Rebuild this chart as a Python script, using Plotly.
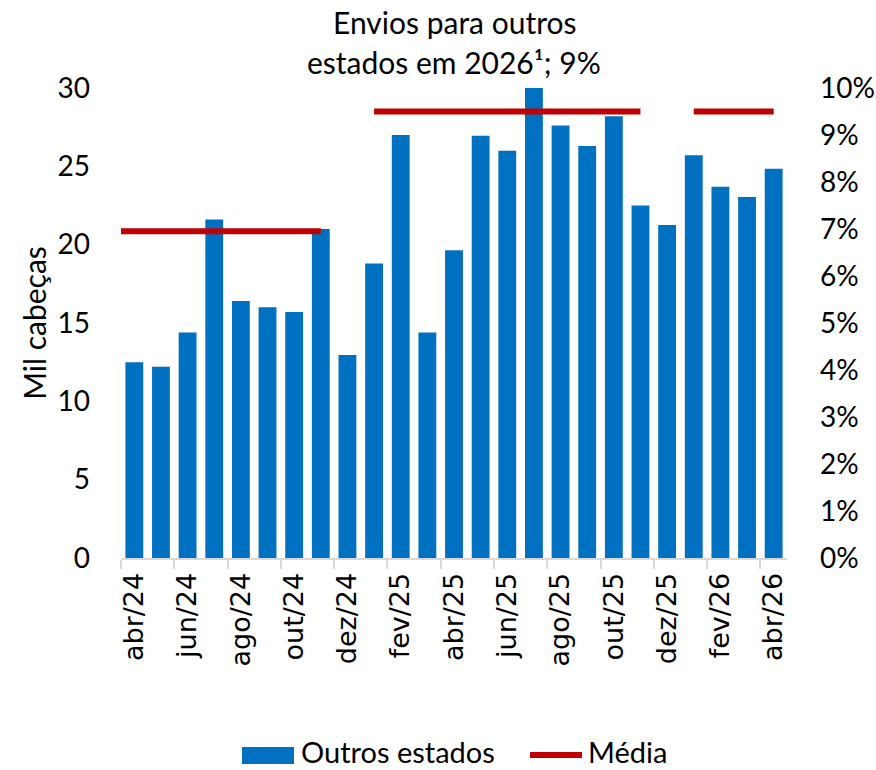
import plotly.graph_objects as go

months = ["abr/24", "mai/24", "jun/24", "jul/24", "ago/24", "set/24", "out/24", "nov/24",
          "dez/24", "jan/25", "fev/25", "mar/25", "abr/25", "mai/25", "jun/25", "jul/25",
          "ago/25", "set/25", "out/25", "nov/25", "dez/25", "jan/26", "fev/26", "mar/26", "abr/26"]
outros_estados = [12.5, 12.2, 14.4, 21.6, 16.4, 16.0, 15.7, 21.0,
                  12.95, 18.8, 27.0, 14.4, 19.65, 26.95, 26.0, 30.0,
                  27.6, 26.3, 28.2, 22.5, 21.25, 25.7, 23.7, 23.05, 24.85]
# Média (% on right axis); a preceding month (mar/24) is part of the first period
media_prev_month = "mar/24"
media_prev_value = 6.95
media = [6.95, 6.95, 6.95, 6.95, 6.95, 6.95, 6.95, 6.95,
         None, 9.5, 9.5, 9.5, 9.5, 9.5, 9.5, 9.5,
         9.5, 9.5, 9.5, 9.5, None, 9.5, 9.5, 9.5, 9.5]
left_ticks = [0, 5, 10, 15, 20, 25, 30]
right_ticks = [0, 1, 2, 3, 4, 5, 6, 7, 8, 9, 10]
right_tick_text = [f"{v}%" for v in right_ticks]
title_lines = ["Envios para outros", "estados em 2026¹; 9%"]
series_names = ["Outros estados", "Média"]

idx = list(range(len(months)))
label_idx = idx[::2]
label_text = months[::2]

BLUE = "#0070C0"
RED = "#C00000"
FONT = "Lato"

W, H = 876, 770
ML, MR, MT, MB = 121, 89, 88, 212
PW, PH = W - ML - MR, H - MT - MB


def px_x(x):
    return (x - ML) / PW


def px_y(y):
    return (H - MB - y) / PH


fig = go.Figure()
fig.add_trace(go.Bar(x=idx, y=outros_estados, name=series_names[0],
                     marker=dict(color=BLUE, line=dict(width=0)), yaxis="y"))
fig.add_trace(go.Scatter(x=[-1] + idx, y=[media_prev_value] + media, name=series_names[1],
                         mode="lines", line=dict(color=RED, width=6),
                         connectgaps=False, yaxis="y2"))

# title, one annotation per line
for line, yc in zip(title_lines, [22, 62]):
    fig.add_annotation(text=line, xref="paper", yref="paper",
                       x=0.5, xanchor="center", y=px_y(yc), yanchor="middle",
                       showarrow=False, align="center",
                       font=dict(family=FONT, size=30, color="black"))

# legend (drawn manually to match the wide swatches)
leg_y = px_y(751)
fig.add_shape(type="rect", xref="paper", yref="paper",
              x0=px_x(242), x1=px_x(294), y0=px_y(747), y1=px_y(764),
              fillcolor=BLUE, line=dict(width=0))
fig.add_annotation(text=series_names[0], xref="paper", yref="paper",
                   x=px_x(299), xanchor="left", y=leg_y, yanchor="middle",
                   showarrow=False,
                   font=dict(family=FONT, size=29, color="black"))
fig.add_shape(type="line", xref="paper", yref="paper",
              x0=px_x(530), x1=px_x(582), y0=px_y(755), y1=px_y(755),
              line=dict(color=RED, width=6))
fig.add_annotation(text=series_names[1], xref="paper", yref="paper",
                   x=px_x(586), xanchor="left", y=leg_y, yanchor="middle",
                   showarrow=False,
                   font=dict(family=FONT, size=29, color="black"))

fig.update_layout(
    width=W, height=H,
    margin=dict(l=ML, r=MR, t=MT, b=MB),
    plot_bgcolor="white", paper_bgcolor="white",
    bargap=0.33, showlegend=False,
    font=dict(family=FONT, size=26, color="black"),
    xaxis=dict(range=[-0.5, len(months) - 0.5], tickmode="array",
               tickvals=label_idx, ticktext=label_text, tickangle=-90,
               ticks="", showline=True, linecolor="#D9D9D9", linewidth=2,
               showgrid=False, zeroline=False, automargin=False,
               ticklabelstandoff=2,
               tickfont=dict(family="DejaVu Sans", size=27, color="black"),
               minor=dict(ticks="outside", tick0=-0.5, dtick=2, ticklen=9,
                          tickcolor="#D9D9D9", tickwidth=2, showgrid=False)),
    yaxis=dict(range=[0, 30], tickmode="array", tickvals=left_ticks,
               showgrid=False, zeroline=False, showline=False, automargin=False,
               ticks="", ticklabelstandoff=30,
               tickfont=dict(family=FONT, size=28, color="black"),
               title=dict(text="Mil cabeças", standoff=2,
                          font=dict(family=FONT, size=30, color="black"))),
    yaxis2=dict(range=[0, 10], overlaying="y", side="right", tickmode="array",
                tickvals=right_ticks, ticktext=right_tick_text, showgrid=False,
                zeroline=False, showline=False, ticks="", ticklabelstandoff=32,
                automargin=False,
                tickfont=dict(family=FONT, size=28, color="black")),
)

fig.write_html("out.html", config={"displayModeBar": False},
               post_script="document.body.style.margin='0';document.body.style.overflow='hidden';")
